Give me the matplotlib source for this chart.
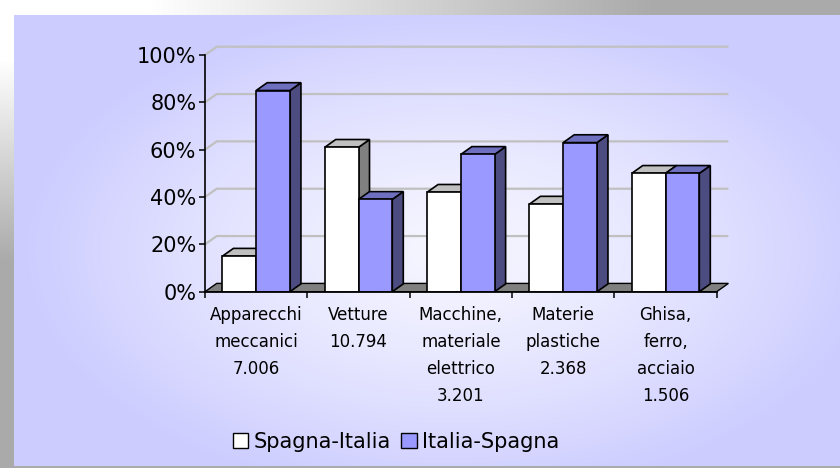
import numpy as np
import matplotlib
matplotlib.use("Agg")
import matplotlib.pyplot as plt
from matplotlib.patches import Polygon, Patch

# --- data ------------------------------------------------------------------ #
CATEGORIES = ["Apparecchi\nmeccanici\n7.006", "Vetture\n10.794",
              "Macchine,\nmateriale\nelettrico\n3.201", "Materie\nplastiche\n2.368",
              "Ghisa,\nferro,\nacciaio\n1.506"]
SPAGNA_ITALIA = [15, 61, 42, 37, 50]
ITALIA_SPAGNA = [85, 39, 58, 63, 50]
SERIES = ["Spagna-Italia", "Italia-Spagna"]
Y_TICKS = [0, 20, 40, 60, 80, 100]

# --- style ----------------------------------------------------------------- #
W, H = 840, 468
# (front, top, side)
WHITE = ("#ffffff", "#c0c0c0", "#808080")
BLUE = ("#9999ff", "#6f6fc0", "#4c4c80")
FLOOR = "#808080"
GRID = "#c0c0c0"
plt.rcParams["font.family"] = "DejaVu Sans"

fig = plt.figure(figsize=(W / 100, H / 100), dpi=100)

# background: grey frame + lavender chart area with a soft light centre
yy, xx = np.mgrid[0:H, 0:W]
img = np.ones((H, W, 3))
lav = np.array([0xcc, 0xcc, 0xff]) / 255
light = np.array([0xf6, 0xf6, 0xff]) / 255
r = np.sqrt(((xx - 450) / 430) ** 2 + ((yy - 250) / 250) ** 2)
t = np.clip(r, 0, 1)[..., None] ** 1.3
img[:] = light * (1 - t) + lav * t
top = (yy < 15)
fr = np.clip((xx - 150) / 500, 0, 1)[..., None]
img[top] = ((1 - fr) * np.array([1, 1, 1]) + fr * np.array([0.67, 0.67, 0.67]))[top]
left = (xx < 14) & ~top
fl = np.clip((yy - 60) / 200, 0, 1)[..., None]
img[left] = ((1 - fl) * np.array([1, 1, 1]) + fl * np.array([0.67, 0.67, 0.67]))[left]
img[yy >= 466] = 0.67
bg = fig.add_axes([0, 0, 1, 1])
bg.imshow(img, aspect="auto", extent=[0, W, H, 0])
bg.axis("off")

# main axes: x in category units, y in percent
x0px, x1px, y0px, y1px = 205, 716.7, 291.7, 55
ax = fig.add_axes([x0px / W, 1 - y0px / H, (x1px - x0px) / W, (y0px - y1px) / H])
ax.set_xlim(0, len(CATEGORIES))
ax.set_ylim(0, 100)
ax.patch.set_alpha(0)

px_x = len(CATEGORIES) / (x1px - x0px)
px_y = 100 / (y0px - y1px)
DX, DY = 11.7 * px_x, 8.3 * px_y          # wall / floor depth
BDX, BDY = 11 * px_x, 7.8 * px_y          # bar depth

n = len(CATEGORIES)
# gridlines on back wall
for v in Y_TICKS[1:]:
    ax.plot([0, DX, n + DX], [v, v + DY, v + DY], color=GRID, lw=1.6,
            clip_on=False, zorder=1, solid_capstyle="butt")
# floor
ax.add_patch(Polygon([(0, 0), (n, 0), (n + DX, DY), (DX, DY)], closed=True,
                     facecolor=FLOOR, edgecolor="black", lw=1.0, clip_on=False, zorder=2))

bw = 0.33
x = np.arange(n) + 0.5


def bar3d(xl, h, cols, z):
    xr = xl + bw
    ax.add_patch(Polygon([(xr, 0), (xr, h), (xr + BDX, h + BDY), (xr + BDX, BDY)],
                         facecolor=cols[2], edgecolor="black", lw=1.2,
                         joinstyle="miter", clip_on=False, zorder=z))
    ax.add_patch(Polygon([(xl, h), (xr, h), (xr + BDX, h + BDY), (xl + BDX, h + BDY)],
                         facecolor=cols[1], edgecolor="black", lw=1.2,
                         joinstyle="miter", clip_on=False, zorder=z))


for i in range(n):
    bar3d(x[i] - bw, SPAGNA_ITALIA[i], WHITE, 3)
    ax.bar(x[i] - bw / 2, SPAGNA_ITALIA[i], bw, color=WHITE[0], edgecolor="black",
           lw=1.2, zorder=3)
    bar3d(x[i], ITALIA_SPAGNA[i], BLUE, 4)
    ax.bar(x[i] + bw / 2, ITALIA_SPAGNA[i], bw, color=BLUE[0], edgecolor="black",
           lw=1.2, zorder=4)

for s in ["top", "right"]:
    ax.spines[s].set_visible(False)
ax.spines["left"].set_linewidth(1.2)
ax.spines["bottom"].set_linewidth(1.2)
ax.spines["bottom"].set_zorder(5)

ax.set_yticks(Y_TICKS, [f"{v}%" for v in Y_TICKS], fontsize=15)
ax.tick_params(axis="y", length=4.3, width=1.1, pad=2)
ax.set_xticks(np.arange(n + 1), [""] * (n + 1))
ax.set_xticks(x, CATEGORIES, minor=True, fontsize=12, linespacing=1.66, va="top")
ax.tick_params(axis="x", which="major", length=4.5, width=1.1)
ax.tick_params(axis="x", which="minor", length=0, pad=10)

handles = [Patch(facecolor=WHITE[0], edgecolor="black", lw=1.0),
           Patch(facecolor=BLUE[0], edgecolor="black", lw=1.0)]
fig.legend(handles, SERIES, loc="center", bbox_to_anchor=(396 / W, 1 - 441.7 / H),
           ncol=2, frameon=False, fontsize=15, handlelength=0.75, handleheight=0.75,
           handletextpad=0.25, columnspacing=0.5, borderaxespad=0)

fig.savefig("out.png", dpi=100)
